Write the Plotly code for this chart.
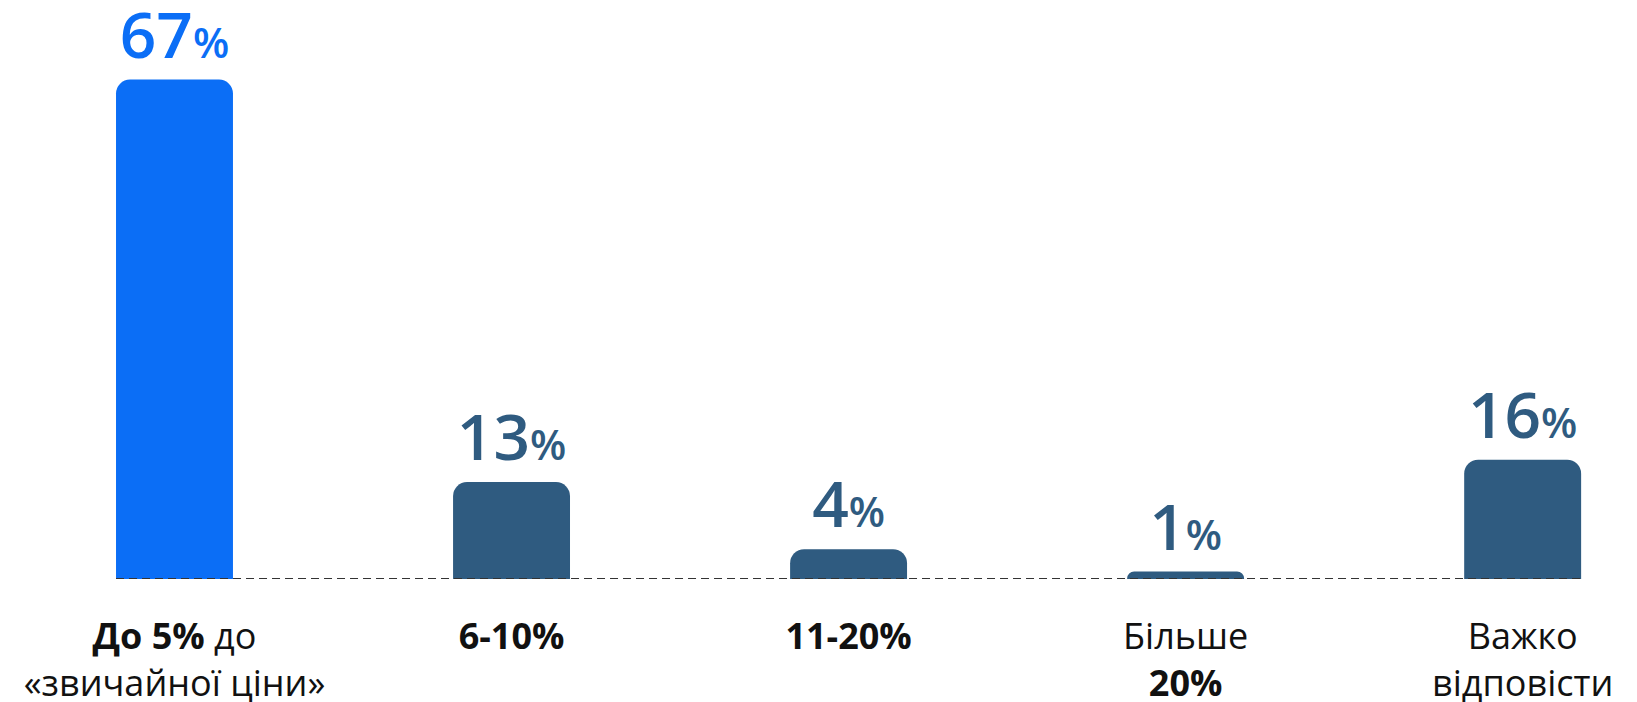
import plotly.graph_objects as go

categories = [
    "<b>До 5%</b> до<br>«звичайної ціни»",
    "<b>6-10%</b>",
    "<b>11-20%</b>",
    "Більше<br><b>20%</b>",
    "Важко<br>відповісти",
]
values = [67, 13, 4, 1, 16]
value_labels = ["67", "13", "4", "1", "16"]

BLUE = "#0b6ef6"
NAVY = "#2f5b80"
colors = [BLUE, NAVY, NAVY, NAVY, NAVY]

texts = [f"{v}<span style='font-size:42px'>%</span>" for v in value_labels]

fig = go.Figure(
    go.Bar(
        x=categories,
        y=values,
        marker=dict(color=colors, line=dict(width=0)),
        text=texts,
        textposition="outside",
        textfont=dict(family="Open Sans", size=64, color=colors, weight=600),
        cliponaxis=False,
        hoverinfo="skip",
    )
)

bargap = 0.653
half = (1 - bargap) / 2
fig.add_shape(
    type="line",
    xref="x", yref="y",
    x0=0 - half, x1=len(categories) - 1 + half,
    y0=0, y1=0,
    line=dict(color="#333333", width=2, dash="8px,5px"),
    layer="above",
)

fig.update_layout(
    width=1637,
    height=702,
    margin=dict(l=0, r=0, t=0, b=131),
    paper_bgcolor="white",
    plot_bgcolor="white",
    bargap=bargap,
    barcornerradius=14,
    showlegend=False,
    xaxis=dict(
        type="category",
        range=[-0.494, 4.363],
        showgrid=False,
        zeroline=False,
        showline=False,
        ticks="",
        tickfont=dict(family="Open Sans", size=36, color="#111111"),
        ticklabelstandoff=33,
    ),
    yaxis=dict(
        range=[0, 76.6],
        visible=False,
        showgrid=False,
        zeroline=False,
    ),
    uniformtext=dict(mode=False),
)

fig.write_html("out.html")
